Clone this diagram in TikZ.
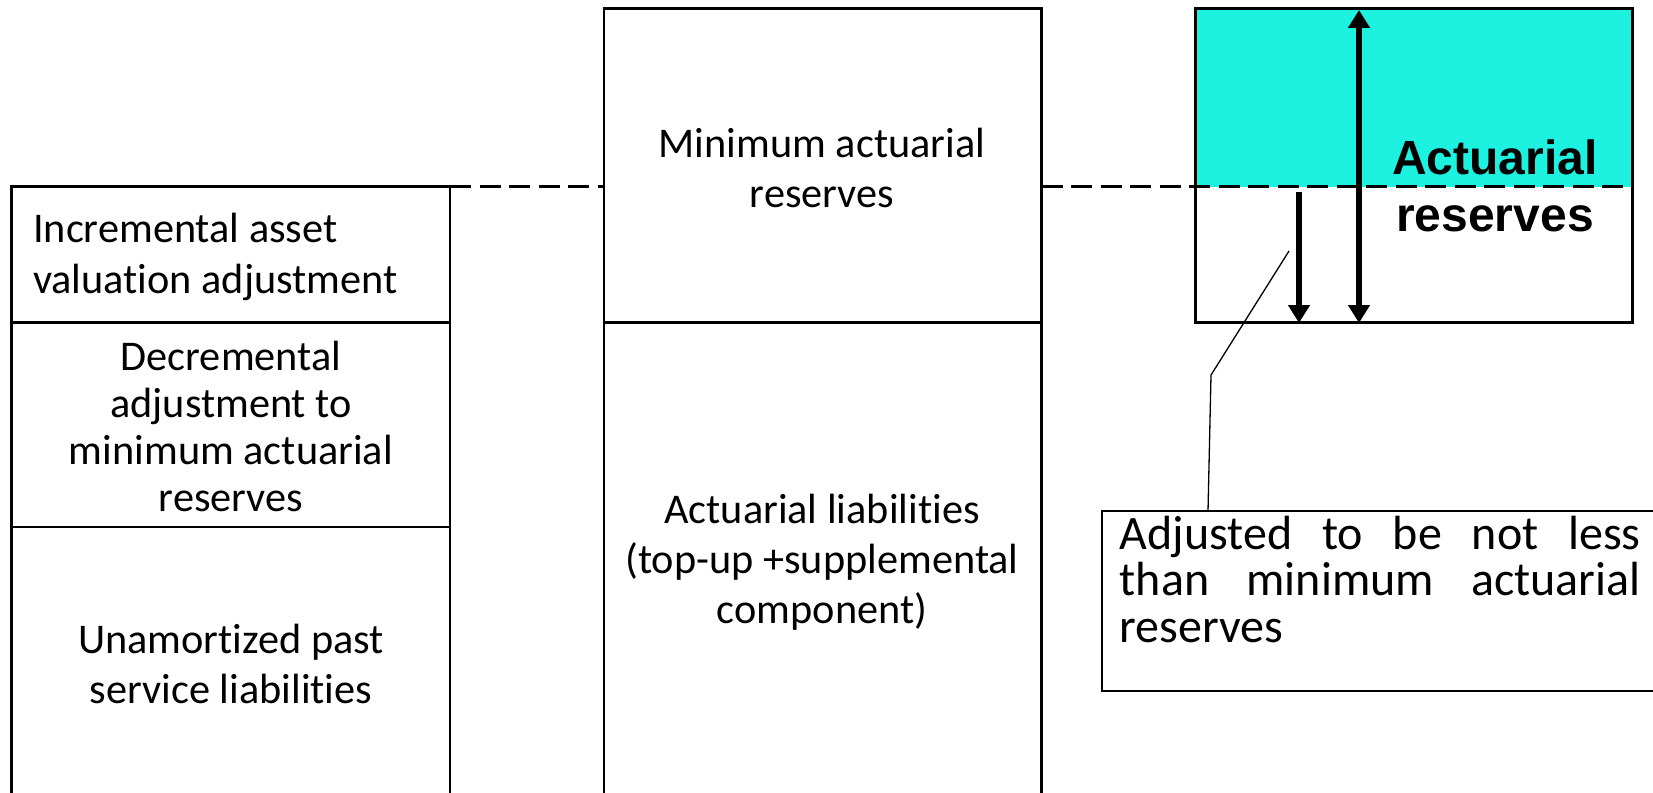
\documentclass[tikz,border=0pt]{standalone}
\usepackage{fontspec}
\setmainfont{Carlito}[Ligatures=NoCommon]
\newfontfamily\arialfont{Liberation Sans}
\usetikzlibrary{arrows.meta}
\definecolor{cyanfill}{RGB}{28,242,223}
\begin{document}
\begin{tikzpicture}[x=1pt,y=-1pt,
  box/.style={draw=black, line width=2.4pt, inner sep=0pt, outer sep=0pt, anchor=north west},
  txt/.style={font=\fontsize{42.3}{#1}\selectfont, align=center, inner sep=0pt},
  txt/.default=48.5,
  calltxt/.style={font=\fontsize{48}{47}\selectfont, inner sep=0pt, anchor=base west},
  dashline/.style={line width=2.4pt, dash pattern=on 21pt off 8.5pt},
  bigarrow/.style={line width=6pt, {Triangle[width=21pt,length=18pt]}-{Triangle[width=21pt,length=18pt]}},
  downarrow/.style={line width=6pt, -{Triangle[width=21pt,length=18pt]}},
  leader/.style={line width=1.3pt}]
\useasboundingbox (0,0) rectangle (1653,792);
\clip (0,0) rectangle (1653,792);
\fill[white] (0,0) rectangle (1653,792);
% left column
\node[box, minimum width=438.4pt, minimum height=136pt] (inc) at (11.6,186.6) {};
\node[box, minimum width=438.4pt, minimum height=204.4pt] (dec) at (11.6,322.6) {};
\node[box, minimum width=438.4pt, minimum height=300pt] (unam) at (11.6,527) {};
% middle column
\node[box, minimum width=437.6pt, minimum height=314.2pt] (minres) at (604,8.4) {};
\node[box, minimum width=437.6pt, minimum height=500pt] (liab) at (604,322.6) {};
% right box
\fill[cyanfill] (1195.5,8.4) rectangle (1632.5,186.6);
\node[box, minimum width=437pt, minimum height=314.2pt] (resbox) at (1195.5,8.4) {};
% dashed level line
\coordinate (dl1) at (1632.5,186.6);
\draw[dashline] (inc.north east) -- (minres.west |- inc.north);
\draw[dashline] (minres.east |- inc.north) -- (dl1);
% callout box
\node[box, line width=2pt, minimum width=700pt, minimum height=179.5pt] (callout) at (1101.6,511) {};
% texts
\node[txt=50.6, align=left, anchor=west] (tinc) at (33,257) {Incremental asset\\valuation adjustment};
\node[txt=47] (tdec) at (231,426) {Decremental\\adjustment to\\minimum actuarial\\reserves};
\node[txt=50.6] (tunam) at (231,664) {Unamortized past\\service liabilities};
\node[txt=49.5] (tmin) at (822,168) {Minimum actuarial\\reserves};
\node[txt=50] (tliab) at (822,562) {Actuarial liabilities\\(top-up +supplemental\\component)};
\node[font=\arialfont\bfseries\fontsize{48}{57}\selectfont, align=center, inner sep=0pt] (tact) at (1495,186) {Actuarial\\reserves};
\node[calltxt] (c1) at (1119.6,549) {\makebox[521pt][s]{Adjusted to be not less}};
\node[calltxt] (c2) at (1119.6,595.7) {\makebox[521pt][s]{than minimum actuarial}};
\node[calltxt] (c3) at (1119.6,642.4) {reserves};
% arrows
\coordinate (bigtop) at (1359,10);
\coordinate (bigbot) at (1359,323);
\coordinate (dntop) at (1299,192);
\coordinate (dnbot) at (1299,323);
\draw[bigarrow] (bigtop) -- (bigbot);
\draw[downarrow] (dntop) -- (dnbot);
% leader line
\coordinate[xshift=106.4pt] (lbase) at (callout.north west);
\coordinate (bend) at (1211,375);
\coordinate (ltip) at (1289,251);
\draw[leader] (lbase) -- (bend) -- (ltip);
\end{tikzpicture}
\end{document}
